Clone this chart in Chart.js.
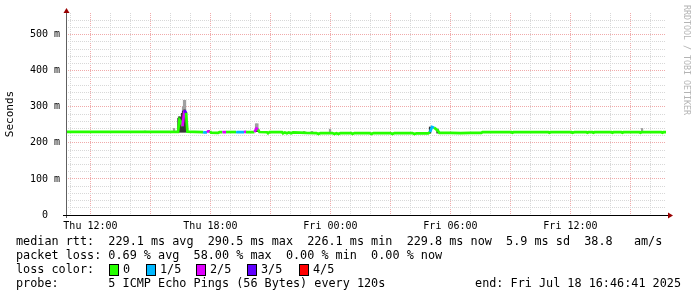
<!DOCTYPE html>
<html>
<head>
<meta charset="utf-8">
<script src="https://cdn.jsdelivr.net/npm/chart.js@4/dist/chart.umd.min.js"></script>
<style>
html,body{margin:0;padding:0;background:#fff;}
#wrap{position:relative;width:697px;height:297px;overflow:hidden;background:#fff;}
canvas{position:absolute;left:0;top:0;}
.txt{position:absolute;font-family:"DejaVu Sans Mono",monospace;font-size:11.8px;line-height:14px;white-space:pre;color:#000;}
.box{position:absolute;width:8px;height:10px;border:1px solid #000;box-sizing:content-box;}
#wm{position:absolute;left:682px;top:5px;writing-mode:vertical-rl;font-family:"DejaVu Sans Mono",monospace;font-size:8.3px;color:#b4b4b4;white-space:pre;}
</style>
</head>
<body>
<div id="wrap">
<canvas id="c" width="697" height="297"></canvas>
<div id="wm">RRDTOOL / TOBI OETIKER</div>
<div class="txt" style="left:16px;top:234px">median rtt:  229.1 ms avg  290.5 ms max  226.1 ms min  229.8 ms now  5.9 ms sd  38.8   am/s</div>
<div class="txt" style="left:16px;top:248px">packet loss: 0.69 % avg  58.00 % max  0.00 % min  0.00 % now</div>
<div class="txt" style="left:16px;top:262px">loss color:</div>
<div id="lossRow"></div>
<div class="txt" style="left:16px;top:276px">probe:       5 ICMP Echo Pings (56 Bytes) every 120s</div>
<div class="txt" style="right:16px;top:276px">end: Fri Jul 18 16:46:41 2025</div>
</div>
<script>
// ---- time axis (hours since Thu 00:00) ----
const endHour = 40 + 46/60 + 41/3600;   // Fri 16:46:41
const startHour = endHour - 30;         // 30 hour window
const xLabelHours = [12, 18, 24, 30, 36];
const xLabelTexts = ['Thu 12:00', 'Thu 18:00', 'Fri 00:00', 'Fri 06:00', 'Fri 12:00'];
const yLabelValues = [0, 100, 200, 300, 400, 500];
const yLabelTexts = ['0  ', '100 m', '200 m', '300 m', '400 m', '500 m'];

// ---- loss legend ----
const lossLabels = ['0', '1/5', '2/5', '3/5', '4/5'];
const lossColors = ['#26ff00', '#00b8ff', '#e000ff', '#6000ff', '#ff0000'];

// ---- median rtt (ms) with loss level ----
const medTime = [10.78, 12.00, 13.50, 14.73, 15.50, 16.38,
  16.45, 16.53, 16.60, 16.70, 16.78, 16.85,
  17.20, 17.63, 17.68, 17.83, 17.88, 17.98, 18.03, 18.38, 18.45, 18.60, 18.65, 18.78, 18.83, 19.28, 19.33, 19.68, 19.73, 19.78, 19.83, 20.20, 20.30, 20.38, 20.45,
  20.83, 20.88, 20.95, 21.58, 21.63, 21.72, 21.83, 21.92, 22.03, 22.13, 22.48,
  22.80, 23.30, 23.40, 23.50, 24.10, 24.20, 24.30, 24.40, 24.50, 25.05, 25.10, 25.20, 25.95, 26.05, 26.15, 27.00, 27.10, 27.20, 28.10, 28.20, 28.30, 28.88,
  28.98, 29.08, 29.18, 29.28, 29.38, 29.45,
  30.00, 30.50, 31.00, 31.55, 31.60, 32.50, 33.05, 33.10, 33.15, 34.90, 34.95, 35.00, 36.05, 36.10, 36.20, 36.80, 36.85, 36.90, 37.10, 37.15, 37.20, 38.05, 38.10, 38.15, 38.55, 38.60, 38.65, 39.45, 39.50, 39.55, 40.55, 40.60, 40.65, 40.78];
const medValue = [230.5, 230.5, 230.5, 230.5, 230.5, 230.5,
  264, 258, 246, 290, 283, 231,
  230.5, 230, 229, 229, 232, 232, 228, 227.5, 229.5, 229.5, 230, 230, 230, 230, 229.5, 229.5, 230.5, 230.5, 230, 230, 240, 237, 230,
  229.5, 226.5, 229.5, 229.5, 226.5, 229, 226.5, 229, 226.5, 229, 228.5,
  227.5, 227, 224.5, 227, 227, 224.5, 227, 224.5, 227, 227, 224.5, 227, 227, 224.5, 227, 227, 224.5, 227, 227, 224.5, 226.5, 226.5,
  230, 244, 242, 238, 233, 227.5,
  227.5, 227, 227.5, 227.5, 229.5, 229.5, 229.5, 228, 229.5, 229.5, 228, 229.5, 229.5, 228, 229.5, 229.5, 228, 229.5, 229.5, 228, 229.5, 229.5, 228, 229.5, 229.5, 228, 229.5, 229.5, 228, 229.5, 229.5, 228, 229.5, 229.5];
const medLoss = [0, 0, 0, 0, 0, 0,
  0, 0, 0, 2, 3, 0,
  0, 0, 1, 1, 2, 2, 0, 0, 0, 0, 2, 2, 0, 0, 1, 1, 2, 2, 0, 0, 2, 2, 0,
  0, 0, 0, 0, 0, 0, 0, 0, 0, 0, 0,
  0, 0, 0, 0, 0, 0, 0, 0, 0, 0, 0, 0, 0, 0, 0, 0, 0, 0, 0, 0, 0, 0,
  0, 1, 1, 0, 0, 0,
  0, 0, 0, 0, 0, 0, 0, 0, 0, 0, 0, 0, 0, 0, 0, 0, 0, 0, 0, 0, 0, 0, 0, 0, 0, 0, 0, 0, 0, 0, 0, 0, 0, 0];

// ---- smoke (ping spread, ms) ----
const smokeDarkTime = [16.40, 16.43, 16.48, 16.53, 16.58, 16.63, 16.68, 16.73, 16.78, 20.33, 28.98, 29.35];
const smokeDarkLow  = [230, 230, 230, 230, 230, 230, 230, 230, 230, 231, 227, 227];
const smokeDarkHigh = [268, 272, 272, 262, 282, 288, 291, 291, 285, 240, 244, 238];
const smokeLightTime = [14.73, 16.18, 16.63, 16.68, 16.73, 20.28, 20.35, 22.68, 23.08, 23.98, 39.58];
const smokeLightLow  = [230, 230, 288, 291, 291, 231, 231, 228, 228, 227, 229];
const smokeLightHigh = [233, 240, 300, 318, 318, 253, 253, 232, 232, 238, 240];

// loss legend boxes
const lossBoxX = [109, 146, 196, 247, 299];
const row = document.getElementById('lossRow');
lossLabels.forEach((lab, i) => {
  const b = document.createElement('div');
  b.className = 'box';
  b.style.left = lossBoxX[i] + 'px';
  b.style.top = '264px';
  b.style.background = lossColors[i];
  row.appendChild(b);
  const t = document.createElement('div');
  t.className = 'txt';
  t.style.left = (lossBoxX[i] + 14) + 'px';
  t.style.top = '262px';
  t.textContent = lab;
  row.appendChild(t);
});

const axisPlugin = {
  id: 'axisArrows',
  afterDraw(chart) {
    const {ctx, chartArea: {left, right, top, bottom}} = chart;
    ctx.save();
    ctx.lineWidth = 1;
    ctx.strokeStyle = '#606060';
    ctx.beginPath();
    ctx.moveTo(Math.round(left) + 0.5, bottom + 3);
    ctx.lineTo(Math.round(left) + 0.5, top - 2);
    ctx.stroke();
    ctx.strokeStyle = '#000';
    ctx.beginPath();
    ctx.moveTo(left - 3, Math.round(bottom) + 0.5);
    ctx.lineTo(right + 3, Math.round(bottom) + 0.5);
    ctx.stroke();
    ctx.fillStyle = '#990000';
    const ax = Math.round(left) + 0.5;
    ctx.beginPath();
    ctx.moveTo(ax, top - 5);
    ctx.lineTo(ax - 3, top);
    ctx.lineTo(ax + 3, top);
    ctx.closePath();
    ctx.fill();
    const ay = Math.round(bottom) + 0.5;
    ctx.beginPath();
    ctx.moveTo(right + 7, ay);
    ctx.lineTo(right + 2, ay - 3);
    ctx.lineTo(right + 2, ay + 3);
    ctx.closePath();
    ctx.fill();
    ctx.restore();
  }
};

Chart.defaults.font.family = '"DejaVu Sans Mono", monospace';

new Chart(document.getElementById('c'), {
  type: 'line',
  data: {
    datasets: [
      {
        type: 'line',
        label: 'median rtt',
        data: medTime.map((t, i) => ({x: t, y: medValue[i]})),
        borderColor: lossColors[0],
        borderWidth: 2.7,
        pointRadius: 0,
        tension: 0,
        fill: false,
        order: 0,
        segment: {
          borderColor: ctx => lossColors[medLoss[ctx.p1DataIndex]]
        }
      },
      {
        type: 'bar',
        label: 'smoke dark',
        data: smokeDarkTime.map((t, i) => ({x: t, y: [smokeDarkLow[i], smokeDarkHigh[i]]})),
        backgroundColor: '#383838',
        barThickness: 1.6,
        grouped: false,
        order: 1
      },
      {
        type: 'bar',
        label: 'smoke light',
        data: smokeLightTime.map((t, i) => ({x: t, y: [smokeLightLow[i], smokeLightHigh[i]]})),
        backgroundColor: '#a0a0a0',
        barThickness: 1.6,
        grouped: false,
        order: 2
      }
    ]
  },
  options: {
    responsive: false,
    animation: false,
    events: [],
    layout: {padding: {left: 0, right: 31, top: 13, bottom: 0}},
    plugins: {legend: {display: false}, tooltip: {enabled: false}},
    scales: {
      x: {
        type: 'linear',
        min: startHour,
        max: endHour,
        offset: false,
        afterBuildTicks: (scale) => {
          const ticks = [];
          for (let h = Math.ceil(startHour); h <= Math.floor(endHour); h++) ticks.push({value: h});
          scale.ticks = ticks;
        },
        afterFit: (scale) => { scale.height = 82; },
        grid: {
          offset: false,
          drawTicks: false,
          lineWidth: 1,
          color: (ctx) => (ctx.tick && ctx.tick.value % 3 === 0) ? '#f0aaaa' : '#d8d8d8'
        },
        border: {display: false, dash: [1, 1]},
        ticks: {
          autoSkip: false,
          maxRotation: 0,
          minRotation: 0,
          padding: 5,
          color: '#000',
          font: {size: 10},
          callback: (v) => {
            const i = xLabelHours.indexOf(v);
            return i >= 0 ? xLabelTexts[i] : '';
          }
        }
      },
      y: {
        type: 'linear',
        min: 0,
        max: 560,
        afterFit: (scale) => { scale.width = 66; },
        grid: {
          drawTicks: false,
          lineWidth: 1,
          color: (ctx) => {
            if (!ctx.tick) return '#d8d8d8';
            if (ctx.tick.value === 560) return 'rgba(0,0,0,0)';
            return ctx.tick.value % 100 === 0 ? '#f0aaaa' : '#d8d8d8';
          }
        },
        border: {display: false, dash: [1, 1]},
        title: {
          display: true,
          text: 'Seconds',
          color: '#000',
          font: {size: 11},
          padding: {top: 4, bottom: 0}
        },
        ticks: {
          stepSize: 20,
          autoSkip: false,
          padding: 6,
          color: '#000',
          font: {size: 10},
          callback: (v) => {
            const i = yLabelValues.indexOf(v);
            return i >= 0 ? yLabelTexts[i] : '';
          }
        }
      }
    }
  },
  plugins: [axisPlugin]
});
</script>
</body>
</html>
